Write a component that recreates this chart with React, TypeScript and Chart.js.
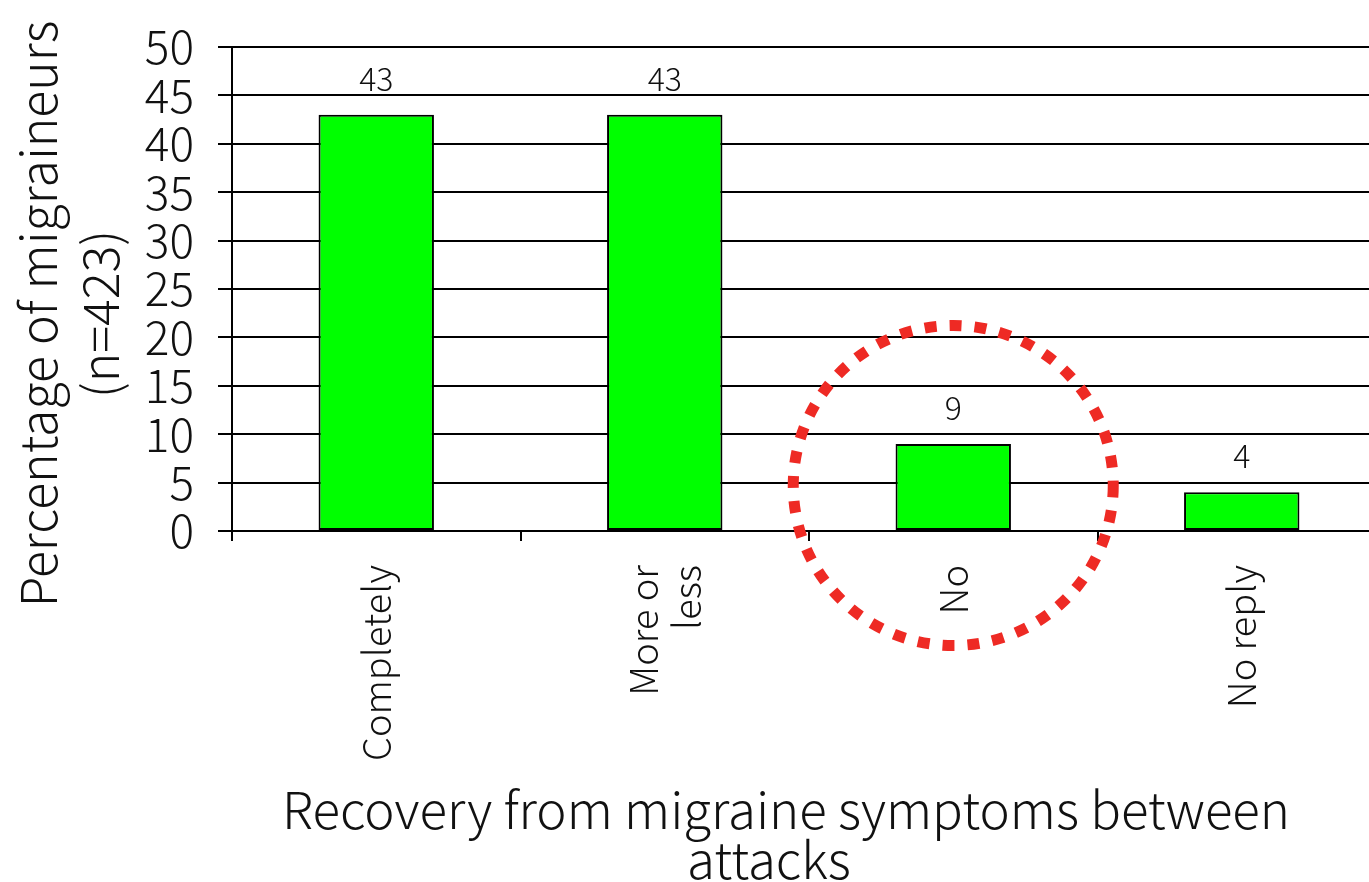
import React, { useEffect, useRef } from "react";
import { Chart, registerables } from "chart.js";

Chart.register(...registerables);

const categories: string[][] = [["Completely"], ["More or", "less"], ["No"], ["No reply"]];
const values: number[] = [43, 43, 9, 4];
const yMin = 0;
const yMax = 50;
const yStep = 5;
const yTitleLines: string[] = ["Percentage of migraineurs", "(n=423)"];
const xTitleLines: string[] = ["Recovery from migraine symptoms between", "attacks"];
const highlightIndex = 2;
const highlightValue = 4.7;

const FONT = "'Noto Sans CJK JP', 'Noto Sans', sans-serif";
const WEIGHT = 300;

const centerMultilineTicksPlugin = {
  id: "centerMultilineTicks",
  beforeDraw(chart: any) {
    const scale = chart.scales.x;
    const items = scale.getLabelItems();
    items.forEach((item: any) => {
      if (Array.isArray(item.label) && item.label.length > 1 && !item.__shifted) {
        const lh = item.font.lineHeight;
        item.options.translation[0] -= ((item.label.length - 1) * lh) / 2;
        item.__shifted = true;
      }
    });
  },
};

const valueLabelPlugin = {
  id: "valueLabels",
  afterDatasetsDraw(chart: any) {
    const ctx = chart.ctx;
    const meta = chart.getDatasetMeta(0);
    ctx.save();
    ctx.font = `${WEIGHT} 32px ${FONT}`;
    ctx.fillStyle = "#111";
    ctx.textAlign = "center";
    ctx.textBaseline = "middle";
    meta.data.forEach((bar: any, i: number) => {
      ctx.fillText(String(values[i]), bar.x, bar.y - 36);
    });
    ctx.restore();
  },
};

const circlePlugin = {
  id: "highlightCircle",
  afterDraw(chart: any) {
    const ctx = chart.ctx;
    const cx = chart.scales.x.getPixelForValue(highlightIndex);
    const cy = chart.scales.y.getPixelForValue(highlightValue);
    ctx.save();
    ctx.strokeStyle = "#EE2A24";
    ctx.lineWidth = 11;
    ctx.setLineDash([12, 13]);
    ctx.beginPath();
    ctx.arc(cx, cy, 160, 0, Math.PI * 2);
    ctx.stroke();
    ctx.restore();
  },
};

const titlesPlugin = {
  id: "axisTitles",
  afterDraw(chart: any) {
    const ctx = chart.ctx;
    ctx.save();
    ctx.fillStyle = "#111";
    ctx.textAlign = "center";
    ctx.textBaseline = "middle";
    ctx.font = `${WEIGHT} 50px ${FONT}`;
    ctx.save();
    ctx.translate(38, 314);
    ctx.rotate(-Math.PI / 2);
    ctx.fillText(yTitleLines[0], 0, 0);
    ctx.fillText(yTitleLines[1], 0, 62);
    ctx.restore();
    ctx.font = `${WEIGHT} 51px ${FONT}`;
    ctx.fillText(xTitleLines[0], 786, 810);
    ctx.fillText(xTitleLines[1], 769, 860);
    ctx.restore();
  },
};

export default function App() {
  const ref = useRef<HTMLCanvasElement | null>(null);
  useEffect(() => {
    if (!ref.current) return;
    const chart = new Chart(ref.current, {
      type: "bar",
      data: {
        labels: categories as any,
        datasets: [
          {
            data: values,
            backgroundColor: "#00FF00",
            borderColor: "#000",
            borderWidth: 2,
            borderSkipped: false,
            barPercentage: 0.4,
            categoryPercentage: 1.0,
          },
        ],
      },
      options: {
        animation: false,
        responsive: false,
        events: [],
        layout: { padding: { left: 0, right: 14, top: 42, bottom: 0 } },
        plugins: { legend: { display: false }, tooltip: { enabled: false }, title: { display: false } },
        scales: {
          x: {
            type: "category",
            offset: true,
            grid: {
              display: true,
              drawOnChartArea: false,
              drawTicks: true,
              tickLength: 10,
              offset: true,
              color: "#000",
              lineWidth: 2,
            },
            border: { display: true, color: "#000", width: 2 },
            ticks: {
              minRotation: 90,
              maxRotation: 90,
              autoSkip: false,
              padding: 24,
              color: "#111",
              font: { family: FONT, size: 38, weight: WEIGHT as any, lineHeight: 1.13 },
            },
            afterFit: (s: any) => {
              s.height = 351;
            },
          },
          y: {
            min: yMin,
            max: yMax,
            ticks: {
              stepSize: yStep,
              autoSkip: false,
              padding: 24,
              color: "#111",
              font: { family: FONT, size: 46, weight: WEIGHT as any, lineHeight: 1.0 },
            },
            grid: { color: "#000", lineWidth: 2, tickLength: 14, drawTicks: true },
            border: { display: true, color: "#000", width: 2 },
            afterFit: (s: any) => {
              s.width = 232;
            },
          },
        },
      },
      plugins: [centerMultilineTicksPlugin, valueLabelPlugin, circlePlugin, titlesPlugin],
    });
    return () => chart.destroy();
  }, []);
  return (
    <canvas
      ref={ref}
      width={1400}
      height={882}
      style={{ position: "fixed", left: 0, top: 0, width: 1400, height: 882, background: "#fff" }}
    />
  );
}
